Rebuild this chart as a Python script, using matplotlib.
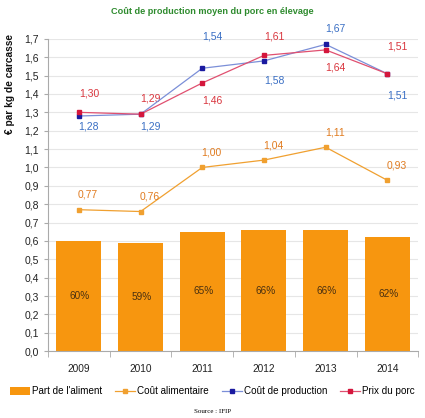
import matplotlib.pyplot as plt
import numpy as np
from matplotlib.ticker import FuncFormatter, FixedLocator

plt.rcParams['font.family'] = ['Liberation Sans', 'DejaVu Sans']

years = ["2009", "2010", "2011", "2012", "2013", "2014"]
part_aliment = [0.60, 0.59, 0.65, 0.66, 0.66, 0.62]
part_labels = ["60%", "59%", "65%", "66%", "66%", "62%"]
cout_alim = [0.77, 0.76, 1.00, 1.04, 1.11, 0.93]
cout_prod = [1.28, 1.29, 1.54, 1.58, 1.67, 1.51]
prix_porc = [1.30, 1.29, 1.46, 1.61, 1.64, 1.51]

# label offsets in pixels (dx, dy)
off_prod = [(10, -10), (10, -12), (10, 32), (10, -20), (10, 16), (10, -22)]
off_prix = [(10, 19), (10, 16), (10, -18), (10, 19), (10, -18), (10, 27)]

c_bar = "#f7960f"
c_alim = "#f0a030"
c_prod_line = "#7b8fd8"
c_prod_mark = "#1a1aa0"
c_prix_line = "#e05070"
c_prix_mark = "#d4163c"

def fmt(v):
    return f"{v:.2f}".replace(".", ",")

fig = plt.figure(figsize=(4.25, 4.18), dpi=100)
ax = fig.add_axes([0.113, 0.160, 0.871, 0.747])
x = np.arange(len(years))

hb = ax.bar(x, part_aliment, width=0.73, color=c_bar, zorder=2, label="Part de l'aliment")
for xi, h, t in zip(x, part_aliment, part_labels):
    ax.text(xi + 0.02, h / 2, t, ha="center", va="center", fontsize=7.2, color="#4a3010", zorder=3)

ha, = ax.plot(x, cout_alim, "-s", color=c_alim, lw=0.9, ms=3.5, mfc=c_alim, mec=c_alim, zorder=3,
              label="Coût alimentaire")
hp, = ax.plot(x, cout_prod, "-s", color=c_prod_line, lw=0.9, ms=3.5, mfc=c_prod_mark, mec=c_prod_mark,
              zorder=4, label="Coût de production")
hx, = ax.plot(x, prix_porc, "-s", color=c_prix_line, lw=0.9, ms=3.5, mfc=c_prix_mark, mec=c_prix_mark,
              zorder=5, label="Prix du porc")

for xi, v in zip(x, cout_alim):
    ax.annotate(fmt(v), (xi, v), xytext=(9 * 0.72, 15 * 0.72), textcoords="offset points",
                ha="center", va="center", fontsize=7.5, color="#e07b1f")
for xi, v, (dx, dy) in zip(x, cout_prod, off_prod):
    ax.annotate(fmt(v), (xi, v), xytext=(dx * 0.72, dy * 0.72), textcoords="offset points",
                ha="center", va="center", fontsize=7.5, color="#3a6fc4")
for xi, v, (dx, dy) in zip(x, prix_porc, off_prix):
    ax.annotate(fmt(v), (xi, v), xytext=(dx * 0.72, dy * 0.72), textcoords="offset points",
                ha="center", va="center", fontsize=7.5, color="#d9363e")

ax.set_xlim(-0.5, 5.5)
ax.set_ylim(0, 1.7)
ax.set_yticks(np.arange(0, 1.71, 0.1))
ax.yaxis.set_major_formatter(FuncFormatter(lambda v, p: f"{v:.1f}".replace(".", ",")))
ax.set_xticks(x)
ax.set_xticklabels(years)
ax.xaxis.set_minor_locator(FixedLocator(np.arange(-0.5, 5.6, 1)))
ax.tick_params(axis="x", which="major", length=0, labelsize=7.3, pad=9, labelcolor="#222222")
ax.tick_params(axis="x", which="minor", length=4, color="#aaaaaa")
ax.tick_params(axis="y", length=3, color="#aaaaaa", labelsize=7.5, labelcolor="#222222")
ax.grid(axis="y", color="#e6e6e6", lw=0.8, zorder=0)
ax.set_axisbelow(True)
for s in ["top", "right"]:
    ax.spines[s].set_visible(False)
for s in ["left", "bottom"]:
    ax.spines[s].set_color("#aaaaaa")

fig.text(10 / 425, 1 - 84 / 418, "€ par kg de carcasse", rotation=90, ha="center", va="center",
         fontsize=7.3, fontweight="bold", color="#111111")
fig.text(0.5, 0.972, "Coût de production moyen du porc en élevage", ha="center", va="center",
         fontsize=6.6, fontweight="bold", color="#2e8b2e")

fig.legend(handles=[hb, ha, hp, hx], loc="center", bbox_to_anchor=(0.5, 0.064), ncol=4,
           frameon=False, fontsize=7.1, handlelength=2.0, handleheight=0.9, handletextpad=0.25,
           columnspacing=1.3, borderaxespad=0, borderpad=0)
fig.text(0.5, 0.016, "Source : IFIP", ha="center", va="center", fontsize=5, family="Liberation Serif")

plt.savefig("out.png", dpi=100)
